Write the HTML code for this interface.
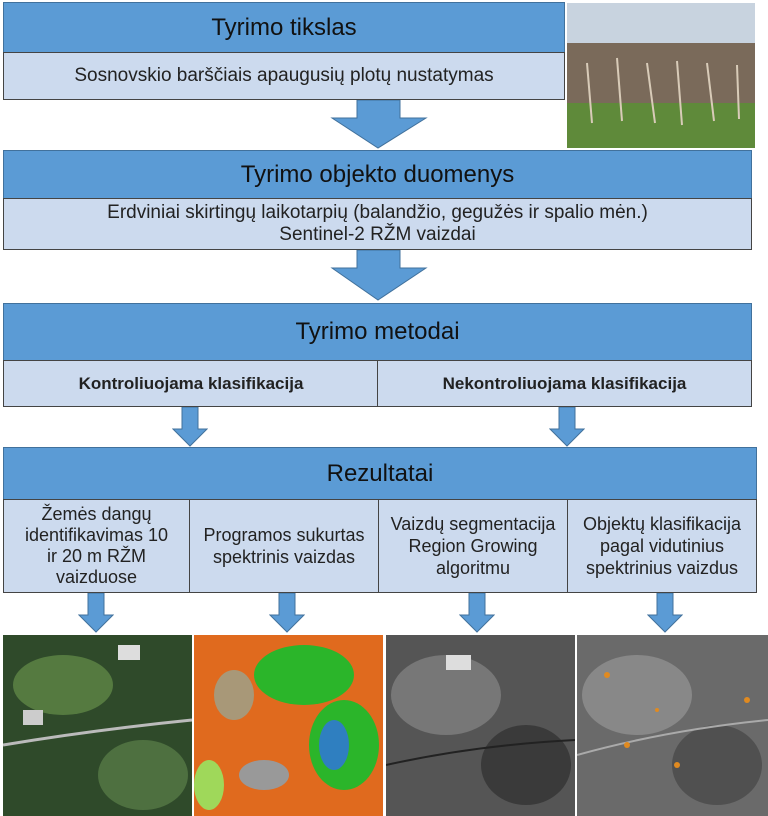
<!DOCTYPE html>
<html><head><meta charset="utf-8"><style>
body{margin:0;width:768px;height:816px;background:#fff;position:relative;overflow:hidden;font-family:"Liberation Sans",sans-serif;color:#111}
.b{position:absolute;box-sizing:border-box;border:1.5px solid #41719c;display:flex;align-items:center;justify-content:center;text-align:center}
.h{background:#5b9bd5;font-size:24px;color:#111}
.s{background:#ccdaee;border:1.5px solid #444;font-size:19px;line-height:22px;color:#222}
svg{position:absolute}
</style></head><body>
<div class="b h" style="left:3px;top:2px;width:562px;height:51px">Tyrimo tikslas</div>
<div class="b s" style="left:3px;top:52px;width:562px;height:48px">Sosnovskio barščiais apaugusių plotų nustatymas</div>
<svg style="left:567px;top:3px" width="188" height="145"><rect width="188" height="40" fill="#c8d3df"/><rect y="40" width="188" height="60" fill="#7a6a5a"/><rect y="100" width="188" height="45" fill="#5f8a3a"/><g stroke="#d8cbb8" stroke-width="2"><line x1="20" y1="60" x2="25" y2="120"/><line x1="50" y1="55" x2="55" y2="118"/><line x1="80" y1="60" x2="88" y2="120"/><line x1="110" y1="58" x2="115" y2="122"/><line x1="140" y1="60" x2="147" y2="118"/><line x1="170" y1="62" x2="172" y2="116"/></g></svg>
<svg style="left:330px;top:100px" width="100" height="50"><polygon points="27,0 70,0 70,18 96,18 48,48 2,18 27,18" fill="#5b9bd5" stroke="#41719c"/></svg>
<div class="b h" style="left:3px;top:150px;width:749px;height:49px">Tyrimo objekto duomenys</div>
<div class="b s" style="left:3px;top:198px;width:749px;height:52px">Erdviniai skirtingų laikotarpių (balandžio, gegužės ir spalio mėn.)<br>Sentinel-2 RŽM vaizdai</div>
<svg style="left:330px;top:250px" width="100" height="52"><polygon points="27,0 70,0 70,18 96,18 48,50 2,18 27,18" fill="#5b9bd5" stroke="#41719c"/></svg>
<div class="b h" style="left:3px;top:303px;width:749px;height:58px">Tyrimo metodai</div>
<div class="b s" style="left:3px;top:360px;width:376px;height:47px;font-weight:bold;font-size:17px">Kontroliuojama klasifikacija</div>
<div class="b s" style="left:377px;top:360px;width:375px;height:47px;font-weight:bold;font-size:17px">Nekontroliuojama klasifikacija</div>
<svg style="left:172px;top:407px" width="36" height="40"><polygon points="10,0 26,0 26,22 35,22 18,39 1,22 10,22" fill="#5b9bd5" stroke="#41719c"/></svg>
<svg style="left:549px;top:407px" width="36" height="40"><polygon points="10,0 26,0 26,22 35,22 18,39 1,22 10,22" fill="#5b9bd5" stroke="#41719c"/></svg>
<div class="b h" style="left:3px;top:447px;width:754px;height:53px">Rezultatai</div>
<div class="b s" style="left:3px;top:499px;width:187px;height:94px;font-size:18px;line-height:21px">Žemės dangų<br>identifikavimas 10<br>ir 20 m RŽM<br>vaizduose</div>
<div class="b s" style="left:189px;top:499px;width:190px;height:94px;font-size:18px">Programos sukurtas<br>spektrinis vaizdas</div>
<div class="b s" style="left:378px;top:499px;width:190px;height:94px;font-size:18px">Vaizdų segmentacija<br>Region Growing<br>algoritmu</div>
<div class="b s" style="left:567px;top:499px;width:190px;height:94px;font-size:18px">Objektų klasifikacija<br>pagal vidutinius<br>spektrinius vaizdus</div>
<svg style="left:78px;top:593px" width="36" height="40"><polygon points="10,0 26,0 26,22 35,22 18,39 1,22 10,22" fill="#5b9bd5" stroke="#41719c"/></svg>
<svg style="left:269px;top:593px" width="36" height="40"><polygon points="10,0 26,0 26,22 35,22 18,39 1,22 10,22" fill="#5b9bd5" stroke="#41719c"/></svg>
<svg style="left:459px;top:593px" width="36" height="40"><polygon points="10,0 26,0 26,22 35,22 18,39 1,22 10,22" fill="#5b9bd5" stroke="#41719c"/></svg>
<svg style="left:647px;top:593px" width="36" height="40"><polygon points="10,0 26,0 26,22 35,22 18,39 1,22 10,22" fill="#5b9bd5" stroke="#41719c"/></svg>
<svg style="left:3px;top:635px" width="189" height="181"><rect width="189" height="181" fill="#2f4a2a"/><ellipse cx="60" cy="50" rx="50" ry="30" fill="#557a40"/><ellipse cx="140" cy="140" rx="45" ry="35" fill="#4e7040"/><rect x="115" y="10" width="22" height="15" fill="#ddd"/><rect x="20" y="75" width="20" height="15" fill="#ccc"/><path d="M0,110 Q90,95 189,85" stroke="#bbb" stroke-width="3" fill="none"/></svg>
<svg style="left:194px;top:635px" width="189" height="181"><rect width="189" height="181" fill="#e06a1e"/><ellipse cx="110" cy="40" rx="50" ry="30" fill="#2bb52a"/><ellipse cx="150" cy="110" rx="35" ry="45" fill="#2bb52a"/><ellipse cx="140" cy="110" rx="15" ry="25" fill="#2f7fc0"/><ellipse cx="40" cy="60" rx="20" ry="25" fill="#a89878"/><ellipse cx="70" cy="140" rx="25" ry="15" fill="#999"/><ellipse cx="15" cy="150" rx="15" ry="25" fill="#9fd85a"/></svg>
<svg style="left:386px;top:635px" width="189" height="181"><rect width="189" height="181" fill="#555"/><ellipse cx="60" cy="60" rx="55" ry="40" fill="#777"/><ellipse cx="140" cy="130" rx="45" ry="40" fill="#3a3a3a"/><rect x="60" y="20" width="25" height="15" fill="#ddd"/><path d="M0,130 Q90,110 189,105" stroke="#222" stroke-width="2" fill="none"/></svg>
<svg style="left:577px;top:635px" width="191" height="181"><rect width="191" height="181" fill="#6a6a6a"/><ellipse cx="60" cy="60" rx="55" ry="40" fill="#888"/><ellipse cx="140" cy="130" rx="45" ry="40" fill="#505050"/><path d="M0,120 Q90,95 191,85" stroke="#aaa" stroke-width="2" fill="none"/><g fill="#e08a20"><circle cx="30" cy="40" r="3"/><circle cx="50" cy="110" r="3"/><circle cx="100" cy="130" r="3"/><circle cx="170" cy="65" r="3"/><circle cx="80" cy="75" r="2"/></g></svg>
</body></html>
